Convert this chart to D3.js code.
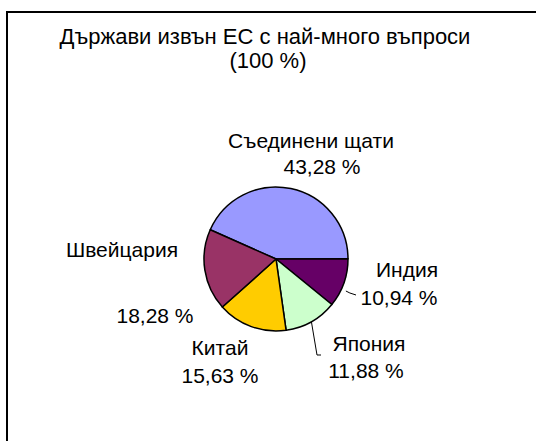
<!DOCTYPE html>
<html>
<head>
<meta charset="utf-8">
<script src="https://cdn.jsdelivr.net/npm/d3@7"></script>
<style>
    body { margin: 0; background: #fff; }
    text { font-family: "Liberation Sans", Arial, sans-serif; fill: #000; }
</style>
</head>
<body>
<div id="chart"></div>
<script>
// data, in slice order (clockwise from the first slice)
const countries = ["Съединени щати", "Индия", "Япония", "Китай", "Швейцария"];
const shares = [43.28, 10.94, 11.88, 15.63, 18.28];
const sliceColors = ["#9999ff", "#660066", "#ccffcc", "#ffcc00", "#993366"];
const titleLines = ["Държави извън ЕС с най-много въпроси", "(100 %)"];

// label placement (layout only): name line + value line positions
const labelPos = {
    "Съединени щати": { x1: 311, y1: 148, x2: 322, y2: 174, leader: false },
    "Индия":          { x1: 407, y1: 277, x2: 399, y2: 305, leader: true, lx: 356, ly: 295 },
    "Япония":         { x1: 369, y1: 351, x2: 366, y2: 378, leader: true, lx: 317, ly: 355 },
    "Китай":          { x1: 220, y1: 355, x2: 220, y2: 383, leader: false },
    "Швейцария":      { x1: 122, y1: 257, x2: 155, y2: 323, leader: false }
};

const W = 536, H = 441;
const cx = 276, cy = 259, radius = 72;
const fmt = v => d3.format(".2f")(v).replace(".", ",") + " %";

const svg = d3.select("#chart").append("svg")
    .attr("width", W)
    .attr("height", H);

// chart frame (runs off the right and bottom edges)
svg.append("rect")
    .attr("x", 7).attr("y", 12)
    .attr("width", W + 10).attr("height", H + 10)
    .attr("fill", "none")
    .attr("stroke", "#000")
    .attr("stroke-width", 2);

// title
svg.append("text").attr("x", 265).attr("y", 44)
    .attr("text-anchor", "middle").attr("font-size", 22)
    .text(titleLines[0]);
svg.append("text").attr("x", 268).attr("y", 68)
    .attr("text-anchor", "middle").attr("font-size", 22)
    .text(titleLines[1]);

const data = countries.map((c, i) => ({ name: c, value: shares[i], color: sliceColors[i] }));

const pie = d3.pie()
    .sort(null)
    .value(d => d.value)
    .startAngle(-66 * Math.PI / 180)
    .endAngle((360 - 66) * Math.PI / 180);

const arc = d3.arc().innerRadius(0).outerRadius(radius);

const g = svg.append("g").attr("transform", `translate(${cx},${cy})`);
const arcs = pie(data);

g.selectAll("path.slice")
    .data(arcs)
    .enter().append("path")
    .attr("class", "slice")
    .attr("d", arc)
    .attr("fill", d => d.data.color)
    .attr("stroke", "#000")
    .attr("stroke-width", 1.5)
    .attr("stroke-linejoin", "round");

// leader lines from the slice edge to the label
arcs.forEach(d => {
    const p = labelPos[d.data.name];
    if (!p.leader) return;
    const a = (d.startAngle + d.endAngle) / 2;
    const sx = cx + radius * Math.sin(a), sy = cy - radius * Math.cos(a);
    const pts = d.data.name === "Япония"
        ? [[sx, sy], [p.lx, p.ly], [p.lx + 4, p.ly]]
        : [[sx + 2, sy + 8], [sx + 6, sy + 10], [p.lx, p.ly]];
    svg.append("path")
        .attr("d", d3.line()(pts))
        .attr("fill", "none")
        .attr("stroke", "#000")
        .attr("stroke-width", 1);
});

// labels
const labels = svg.append("g");
arcs.forEach(d => {
    const p = labelPos[d.data.name];
    labels.append("text").attr("x", p.x1).attr("y", p.y1)
        .attr("text-anchor", "middle").attr("font-size", 21)
        .text(d.data.name);
    labels.append("text").attr("x", p.x2).attr("y", p.y2)
        .attr("text-anchor", "middle").attr("font-size", 21)
        .text(fmt(d.data.value));
});
</script>
</body>
</html>
